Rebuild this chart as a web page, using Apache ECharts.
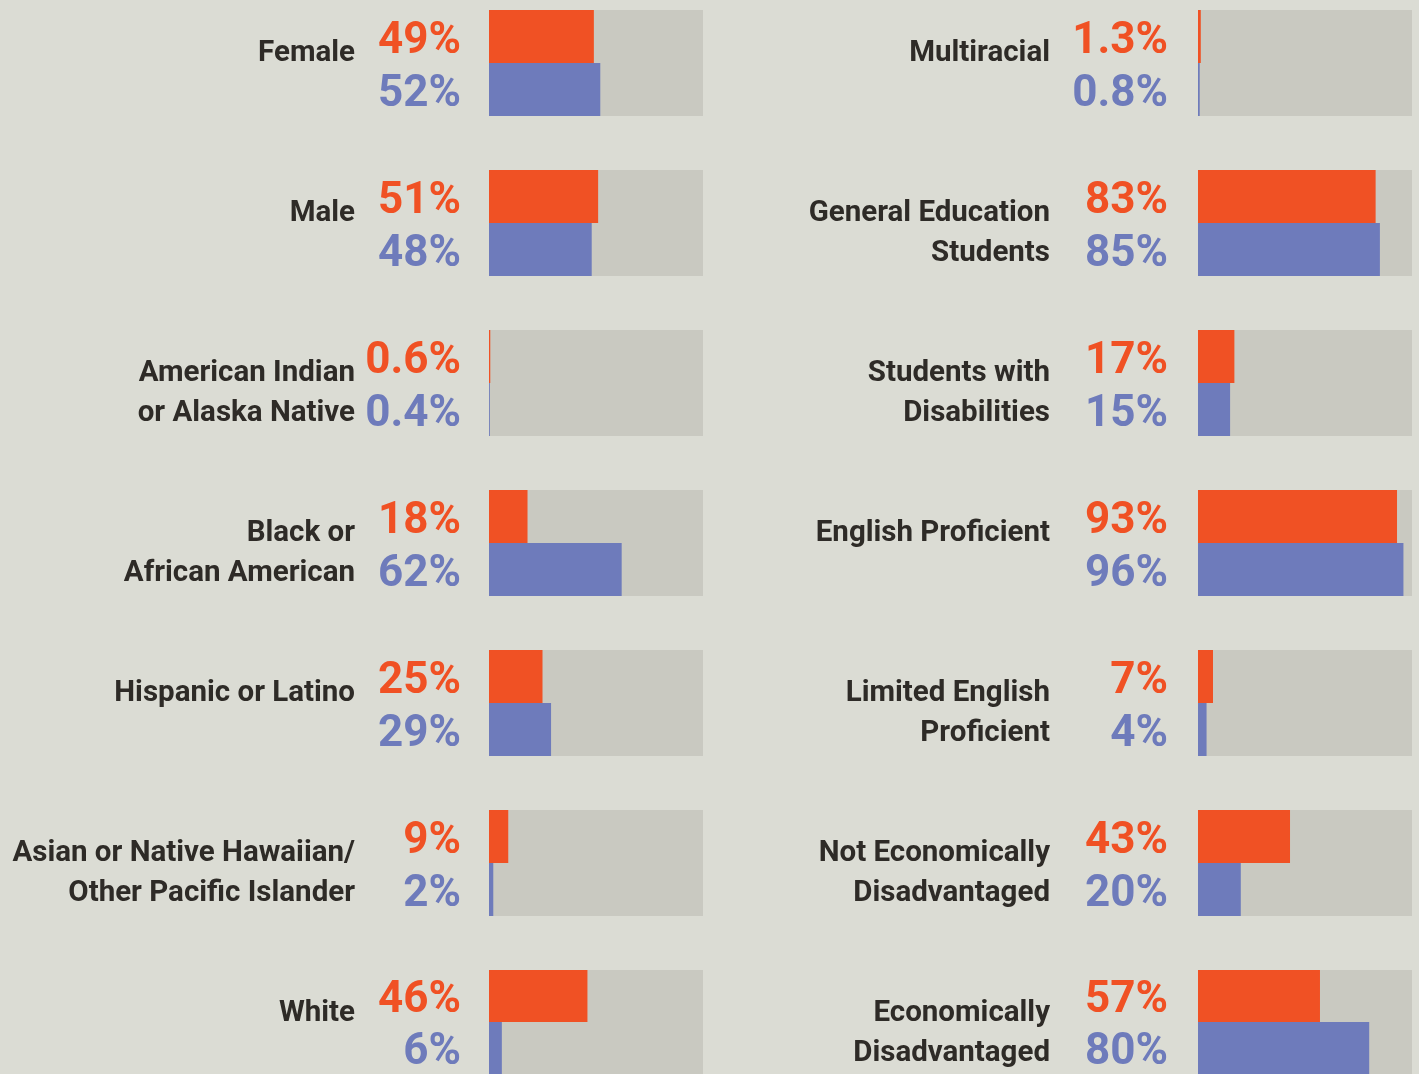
<!DOCTYPE html>
<html>
<head>
<meta charset="utf-8">
<script src="https://cdn.jsdelivr.net/npm/echarts@6/dist/echarts.min.js"></script>
<style>
  html,body{margin:0;padding:0;background:#dbdcd4;}
  #chart{width:1419px;height:1074px;}
</style>
</head>
<body>
<div id="chart"></div>
<script>
// left column
let leftLabels = [
  'Female',
  'Male',
  'American Indian\nor Alaska Native',
  'Black or\nAfrican American',
  'Hispanic or Latino',
  'Asian or Native Hawaiian/\nOther Pacific Islander',
  'White'
];
let leftOrange = [49, 51, 0.6, 18, 25, 9, 46];
let leftBlue   = [52, 48, 0.4, 62, 29, 2, 6];

// right column
let rightLabels = [
  'Multiracial',
  'General Education\nStudents',
  'Students with\nDisabilities',
  'English Proficient',
  'Limited English\nProficient',
  'Not Economically\nDisadvantaged',
  'Economically\nDisadvantaged'
];
let rightOrange = [1.3, 83, 17, 93, 7, 43, 57];
let rightBlue   = [0.8, 85, 15, 96, 4, 20, 80];

const ORANGE = '#f05124';
const BLUE = '#6e7bbb';
const TRACK = '#c9c9c1';
const TEXT = '#2e2b27';

let chart = echarts.init(document.getElementById('chart'));

let grids = [], xAxes = [], yAxes = [], series = [];

function addColumn(labels, orange, blue, left, labelMargin, pctDist){
  for(let i=0;i<labels.length;i++){
    let idx = grids.length;
    grids.push({left:left, top:10 + i*160, width:214, height:106});
    xAxes.push({
      type:'value', gridIndex:idx, min:0, max:100,
      show:false
    });
    yAxes.push({
      type:'category', gridIndex:idx, inverse:true,
      data:[labels[i], ''],
      axisLine:{show:false}, axisTick:{show:false}, splitLine:{show:false},
      axisLabel:{
        margin:labelMargin,
        verticalAlign:'top',
        align:'right',
        formatter:function(v){
          if(!v) return '';
          let ls = v.split('\n');
          let s = '{a|' + ls[0] + '}';
          if(ls.length > 1) s += '\n{b|' + ls[1] + '}';
          return s;
        },
        rich:{
          a:{fontFamily:'Roboto', fontWeight:'bold', fontSize:29.5, color:TEXT, lineHeight:34.6, align:'right'},
          b:{fontFamily:'Roboto', fontWeight:'bold', fontSize:29.5, color:TEXT, lineHeight:45.4, align:'right'}
        }
      }
    });
    series.push({
      type:'bar',
      xAxisIndex:idx, yAxisIndex:idx,
      barCategoryGap:'0%',
      showBackground:true,
      backgroundStyle:{color:TRACK},
      silent:true,
      data:[
        {value:orange[i], itemStyle:{color:ORANGE}, label:{color:ORANGE}},
        {value:blue[i], itemStyle:{color:BLUE}, label:{color:BLUE}}
      ],
      label:{
        show:true,
        position:'left',
        distance:pctDist,
        offset:[0,5],
        fontFamily:'Roboto',
        fontWeight:'bold',
        fontSize:44,
        formatter:p => p.value + '%'
      }
    });
  }
}

addColumn(leftLabels, leftOrange, leftBlue, 489, 134, 28);
addColumn(rightLabels, rightOrange, rightBlue, 1198, 148, 30);

chart.setOption({
  backgroundColor:'#dbdcd4',
  animation:false,
  grid:grids,
  xAxis:xAxes,
  yAxis:yAxes,
  series:series
});
</script>
</body>
</html>
